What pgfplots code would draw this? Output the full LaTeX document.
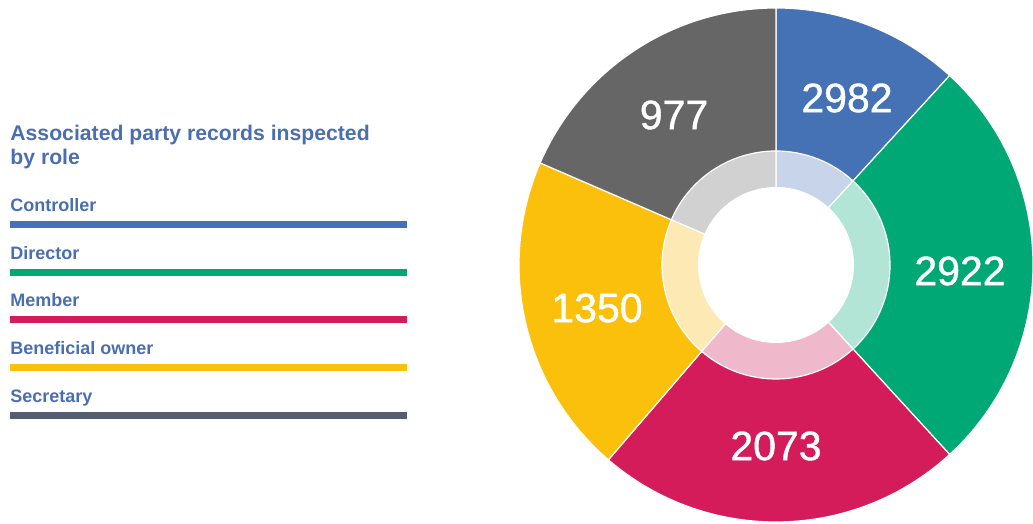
\documentclass[border=0pt]{standalone}
\usepackage{pgfplots}
\pgfplotsset{compat=1.18}
\usepackage{fontspec}
\setmainfont{Liberation Sans}
\newfontfamily\numfont{Liberation Sans}[FakeBold=1]
\definecolor{cBlue}{HTML}{4472B4}
\definecolor{cGreen}{HTML}{00A875}
\definecolor{cRed}{HTML}{D41C5A}
\definecolor{cYellow}{HTML}{FBC00C}
\definecolor{cGray}{HTML}{666666}
\definecolor{cSec}{HTML}{555E6E}
\definecolor{lBlue}{HTML}{C8D4EA}
\definecolor{lGreen}{HTML}{B2E5D5}
\definecolor{lRed}{HTML}{F0B8CB}
\definecolor{lYellow}{HTML}{FDE9B4}
\definecolor{lGray}{HTML}{D1D1D1}
\definecolor{cTitle}{HTML}{4A6EB0}
\begin{document}
\begin{tikzpicture}
\begin{axis}[
  x=0.5pt, y=0.5pt,
  xmin=0, xmax=1033, ymin=0, ymax=524,
  hide axis, clip=false,
]
\coordinate (LL) at (axis cs:0,0);
\coordinate (UR) at (axis cs:1033,524);
\coordinate (C) at (axis cs:776,259);
% outer wedges (start angle, end angle), radius 257px
\fill[cBlue,draw=white,line width=0.6pt] (C) -- ([shift={(47.5:128.5pt)}]C) arc[start angle=47.5,end angle=90,radius=128.5pt] -- cycle;
\fill[cGreen,draw=white,line width=0.6pt] (C) -- ([shift={(-47.5:128.5pt)}]C) arc[start angle=-47.5,end angle=47.5,radius=128.5pt] -- cycle;
\fill[cRed,draw=white,line width=0.6pt] (C) -- ([shift={(-130.7:128.5pt)}]C) arc[start angle=-130.7,end angle=-47.5,radius=128.5pt] -- cycle;
\fill[cYellow,draw=white,line width=0.6pt] (C) -- ([shift={(156.6:128.5pt)}]C) arc[start angle=156.6,end angle=229.3,radius=128.5pt] -- cycle;
\fill[cGray,draw=white,line width=0.6pt] (C) -- ([shift={(90:128.5pt)}]C) arc[start angle=90,end angle=156.6,radius=128.5pt] -- cycle;
% inner light ring, radius 114px
\fill[lBlue,draw=white,line width=0.6pt] (C) -- ([shift={(47.5:57pt)}]C) arc[start angle=47.5,end angle=90,radius=57pt] -- cycle;
\fill[lGreen,draw=white,line width=0.6pt] (C) -- ([shift={(-47.5:57pt)}]C) arc[start angle=-47.5,end angle=47.5,radius=57pt] -- cycle;
\fill[lRed,draw=white,line width=0.6pt] (C) -- ([shift={(-130.7:57pt)}]C) arc[start angle=-130.7,end angle=-47.5,radius=57pt] -- cycle;
\fill[lYellow,draw=white,line width=0.6pt] (C) -- ([shift={(156.6:57pt)}]C) arc[start angle=156.6,end angle=229.3,radius=57pt] -- cycle;
\fill[lGray,draw=white,line width=0.6pt] (C) -- ([shift={(90:57pt)}]C) arc[start angle=90,end angle=156.6,radius=57pt] -- cycle;
\fill[white] (C) circle[radius=39pt];
% values
\node[white,font=\fontsize{20.5}{20}\numfont] at (axis cs:847,426) {2982};
\node[white,font=\fontsize{20.5}{20}\numfont] at (axis cs:960,253) {2922};
\node[white,font=\fontsize{20.5}{20}\numfont] at (axis cs:776,78) {2073};
\node[white,font=\fontsize{20.5}{20}\numfont] at (axis cs:597,216) {1350};
\node[white,font=\fontsize{20.5}{20}\numfont] at (axis cs:674,409) {977};
% legend
\node[anchor=base west,inner sep=0,text=cTitle,font=\fontsize{10.6}{12}\selectfont\bfseries] at (axis cs:10,383) {Associated party records inspected};
\node[anchor=base west,inner sep=0,text=cTitle,font=\fontsize{10.6}{12}\selectfont\bfseries] at (axis cs:10,359) {by role};
\node[anchor=base west,inner sep=0,text=cTitle,font=\fontsize{9}{10}\selectfont\bfseries] at (axis cs:10,312) {Controller};
\node[anchor=base west,inner sep=0,text=cTitle,font=\fontsize{9}{10}\selectfont\bfseries] at (axis cs:10,264) {Director};
\node[anchor=base west,inner sep=0,text=cTitle,font=\fontsize{9}{10}\selectfont\bfseries] at (axis cs:10,217) {Member};
\node[anchor=base west,inner sep=0,text=cTitle,font=\fontsize{9}{10}\selectfont\bfseries] at (axis cs:10,169) {Beneficial owner};
\node[anchor=base west,inner sep=0,text=cTitle,font=\fontsize{9}{10}\selectfont\bfseries] at (axis cs:10,121) {Secretary};
\addplot[cBlue,line width=3.5pt,line cap=butt] coordinates {(10,299.5) (407,299.5)};
\addplot[cGreen,line width=3.5pt,line cap=butt] coordinates {(10,251.5) (407,251.5)};
\addplot[cRed,line width=3.5pt,line cap=butt] coordinates {(10,204) (407,204)};
\addplot[cYellow,line width=3.5pt,line cap=butt] coordinates {(10,156) (407,156)};
\addplot[cSec,line width=3.5pt,line cap=butt] coordinates {(10,108.5) (407,108.5)};
\end{axis}
\pgfresetboundingbox
\path (LL) rectangle (UR);
\end{tikzpicture}
\end{document}
